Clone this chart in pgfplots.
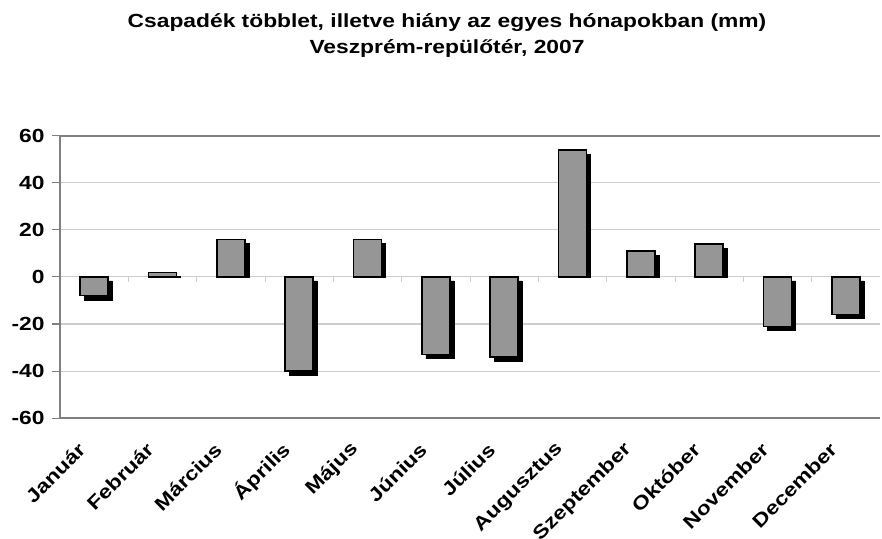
\documentclass[border=0pt]{standalone}
\usepackage{fontspec}
\setmainfont{Liberation Sans}[FakeStretch=1.2]
\usepackage{pgfplots}
\pgfplotsset{compat=1.18}
\definecolor{barfill}{RGB}{150,150,150}
\definecolor{gridc}{RGB}{205,205,205}
\definecolor{axc}{RGB}{128,128,128}

\begin{document}
\begin{tikzpicture}
\useasboundingbox (0pt,0pt) rectangle (882pt,538pt);
\begin{axis}[
 at={(60pt,120pt)}, anchor=south west,
 scale only axis, width=820pt, height=282pt,
 xmin=-0.5, xmax=11.5, ymin=-60, ymax=60,
 axis x line*=bottom, axis y line*=left,
 axis line style={axc, line width=1.3pt},
 xtick={0,...,11},
 xticklabels={Január,Február,Március,Április,Május,Június,Július,Augusztus,Szeptember,Október,November,December},
 x tick style={draw=none},
 ytick={-60,-40,...,60},
 y tick style={axc, line width=1pt},
 tick align=outside, major tick length=8pt,
 ymajorgrids, grid style={gridc, line width=1pt},
 /pgf/number format/assume math mode=true,
 yticklabel style={font=\bfseries\fontsize{19}{19}\selectfont, xshift=-4pt},
 xticklabel style={font=\bfseries\fontsize{19}{19}\selectfont, xshift=-10pt, yshift=-18pt, rotate=45, anchor=east},
 clip=false,
]
% shadows of positive bars
\addplot[ybar, bar width=28pt, bar shift=4pt, fill=black, draw=black] coordinates {
 (1,0.3) (2,14.3) (4,14.3) (7,52.3) (8,9.3) (9,12.3)
};
% shadows of negative bars
\addplot[ybar, bar width=28pt, bar shift=4pt, yshift=-4pt, fill=black, draw=black] coordinates {
 (0,-8) (3,-40) (5,-33) (6,-34) (10,-21) (11,-16)
};
% bars
\addplot[ybar, bar width=28pt, bar shift=0pt, fill=barfill, draw=black, line width=1.4pt] coordinates {
 (0,-8) (1,2) (2,16) (3,-40) (4,16) (5,-33) (6,-34) (7,54) (8,11) (9,14) (10,-21) (11,-16)
};
\pgfplotsinvokeforeach{0.5,1.5,2.5,3.5,4.5,5.5,6.5,7.5,8.5,9.5,10.5}{
 \draw[gridc, line width=1pt] (axis cs:#1,0) -- (axis cs:#1,-2);
}
\draw[axc, line width=1.3pt] (rel axis cs:0,1) -- (rel axis cs:1,1);
\end{axis}
\node[align=center, font=\bfseries\fontsize{19}{26}\selectfont] at (447pt,502pt)
 {Csapadék többlet, illetve hiány az egyes hónapokban (mm)\\Veszprém-repülőtér, 2007};
\end{tikzpicture}
\end{document}
